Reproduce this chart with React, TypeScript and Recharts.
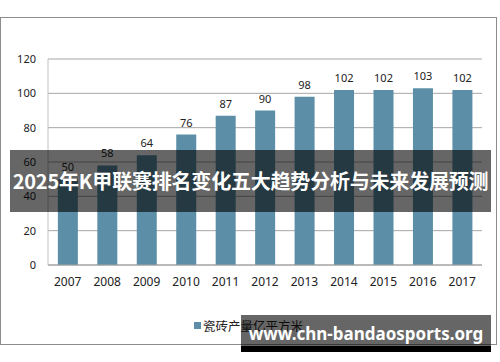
import React from 'react';
import { BarChart, Bar, XAxis, YAxis, CartesianGrid, LabelList, Legend } from 'recharts';

const years = ['2007', '2008', '2009', '2010', '2011', '2012', '2013', '2014', '2015', '2016', '2017'];
const output = [50, 58, 64, 76, 87, 90, 98, 102, 102, 103, 102];
const yTicks = [0, 20, 40, 60, 80, 100, 120];
const seriesName = '瓷砖产量亿平方米';
const title = '2025年K甲联赛排名变化五大趋势分析与未来发展预测';
const watermark = 'www.chn-bandaosports.org';

const chartData = years.map((year, i) => ({ year, value: output[i] }));

const BAR_COLOR = '#5c8fa7';

const renderLegend = () => (
  <div style={{ display: 'flex', alignItems: 'center', fontFamily: '"Noto Sans CJK SC", sans-serif', fontSize: 12.5, color: '#222' }}>
    <span style={{ display: 'inline-block', width: 7, height: 7, background: BAR_COLOR, marginRight: 2 }} />
    {seriesName}
  </div>
);

export default function App() {
  return (
    <div style={{ position: 'absolute', left: 0, top: 0, width: 500, height: 362, background: '#fff', overflow: 'hidden' }}>
      <div style={{ position: 'absolute', left: 0, top: 17, width: 495, height: 326, border: '1px solid #8c8c8c' }} />
      <div style={{ position: 'absolute', left: 0, top: 0 }}>
        <BarChart
          width={500}
          height={362}
          data={chartData}
          margin={{ top: 59, right: 18, left: 0, bottom: 48 }}
          barCategoryGap="25%"
        >
          <CartesianGrid vertical={false} stroke="#a6a6a6" />
          <XAxis
            dataKey="year"
            height={30}
            tickLine={false}
            tickMargin={6}
            stroke="#a0a0a0"
            tick={{ fill: '#222', fontSize: 12, fontFamily: '"Noto Sans", sans-serif' }}
          />
          <YAxis
            width={48}
            domain={[0, 120]}
            ticks={yTicks}
            tickLine={false}
            tickMargin={6}
            stroke="#c0c0c0"
            tick={{ fill: '#222', fontSize: 11, fontFamily: '"Noto Sans", sans-serif' }}
          />
          <Legend
            content={renderLegend}
            wrapperStyle={{ position: 'absolute', left: 194, top: 316, width: 'auto' }}
          />
          <Bar dataKey="value" name={seriesName} fill={BAR_COLOR} isAnimationActive={false}>
            <LabelList
              dataKey="value"
              position="top"
              offset={8}
              fill="#222"
              fontSize={11}
              fontFamily='"Noto Sans", sans-serif'
            />
          </Bar>
        </BarChart>
      </div>
      <div
        style={{
          position: 'absolute',
          left: 10,
          top: 150,
          width: 481,
          height: 62,
          background: 'rgba(0,0,0,0.6)',
          color: '#fff',
          fontFamily: '"Noto Sans CJK SC", sans-serif',
          fontWeight: 700,
          fontSize: 20,
          lineHeight: '62px',
          textAlign: 'center',
          whiteSpace: 'nowrap',
          letterSpacing: -0.2,
        }}
      >
        {title}
      </div>
      <div
        style={{
          position: 'absolute',
          left: 241,
          top: 315,
          width: 250,
          height: 31,
          background: 'rgba(0,0,0,0.6)',
          borderBottom: '6px solid #000',
          color: '#fff',
          fontFamily: '"Noto Sans", sans-serif',
          fontWeight: 700,
          fontSize: 17,
          lineHeight: '37px',
          textAlign: 'center',
          whiteSpace: 'nowrap',
        }}
      >
        {watermark}
      </div>
    </div>
  );
}
